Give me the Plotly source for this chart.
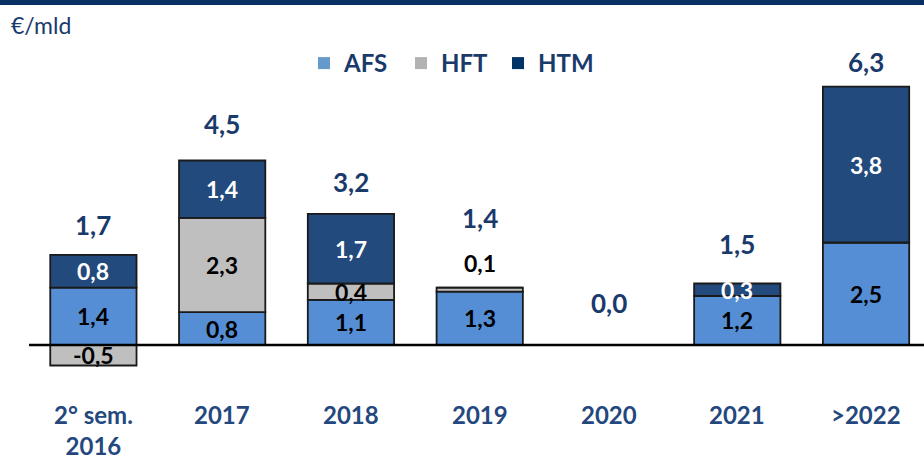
import plotly.graph_objects as go

categories = ["2° sem.<br>2016", "2017", "2018", "2019", "2020", "2021", ">2022"]
afs = [1.4, 0.8, 1.1, 1.3, 0.0, 1.2, 2.5]
hft = [-0.5, 2.3, 0.4, 0.1, 0.0, 0.0, 0.0]
htm = [0.8, 1.4, 1.7, 0.0, 0.0, 0.3, 3.8]
series_names = ["AFS", "HFT", "HTM"]
unit_label = "€/mld"

# styles
bar_colors = ["#558ED5", "#BFBFBF", "#234A7C"]
legend_colors = ["#6699CC", "#B2B2B2", "#003366"]
label_colors = ["#000000", "#000000", "#FFFFFF"]
navy = "#1A3A6C"
cat_color = "#24487E"
FONT = "Lato"
total_shift = [30, 37, 32, 70, 42, 40, 25]

x_idx = list(range(len(categories)))


def fmt(v):
    return f"{v:.1f}".replace(".", ",")


fig = go.Figure()
for name, vals, col in zip(series_names, [afs, hft, htm], bar_colors):
    fig.add_trace(go.Bar(
        x=x_idx, y=vals, name=name, width=0.67, showlegend=False,
        marker=dict(color=col, line=dict(color="#1A1A1A", width=1.8)),
        hoverinfo="skip",
    ))
for name, col in zip(series_names, legend_colors):
    fig.add_trace(go.Bar(
        x=[None], y=[None], name=name, showlegend=True,
        marker=dict(color=col, line=dict(width=0)),
    ))

annotations = []
for i in x_idx:
    pos_base = 0.0
    neg_base = 0.0
    for vals, lc in zip([afs, hft, htm], label_colors):
        v = vals[i]
        if v >= 0:
            y0, y1 = pos_base, pos_base + v
            pos_base = y1
        else:
            y0, y1 = neg_base + v, neg_base
            neg_base = y0
        if v == 0:
            continue
        ymid = (y0 + y1) / 2
        yshift = 0
        if abs(v) < 0.2:
            ymid = y1
            yshift = 25
        annotations.append(dict(
            x=i, y=ymid, xref="x", yref="y", text=fmt(v), showarrow=False,
            yshift=yshift,
            font=dict(family=FONT, size=23, color=lc, weight="bold"),
        ))
    total = afs[i] + hft[i] + htm[i]
    annotations.append(dict(
        x=i, y=pos_base, xref="x", yref="y", text=fmt(total), showarrow=False,
        yshift=total_shift[i],
        font=dict(family=FONT, size=26, color=navy, weight="bold"),
    ))
    annotations.append(dict(
        x=i, y=0, xref="x", yref="y", text=categories[i], showarrow=False,
        yanchor="top", yshift=-53,
        font=dict(family=FONT, size=24, color=cat_color, weight="bold"),
    ))

W, H = 924, 459
ML, MR, MT, MB = 29, 0, 30, 53
pw, ph = W - ML - MR, H - MT - MB

annotations.append(dict(
    x=(9 - ML) / pw, y=1 + (MT - 25) / ph, xref="paper", yref="paper",
    text=unit_label, showarrow=False, xanchor="left", yanchor="middle",
    font=dict(family=FONT, size=23, color=navy),
))

fig.update_layout(
    width=W, height=H,
    margin=dict(l=ML, r=MR, t=MT, b=MB, pad=0),
    barmode="relative",
    plot_bgcolor="white", paper_bgcolor="white",
    xaxis=dict(range=[-0.5, 6.45], showticklabels=False, showgrid=False,
               zeroline=False, showline=False, ticks=""),
    yaxis=dict(range=[-1.488, 7.683], showticklabels=False, showgrid=False,
               zeroline=False, showline=False, ticks=""),
    showlegend=True,
    legend=dict(
        orientation="h", x=(304 - ML) / pw, y=1 - (41 - MT) / ph,
        xanchor="left", yanchor="top",
        font=dict(family=FONT, size=24, color=navy, weight="bold"),
        bgcolor="rgba(0,0,0,0)", entrywidth=52, entrywidthmode="pixels",
        traceorder="normal",
    ),
    annotations=annotations,
    shapes=[
        dict(type="line", xref="paper", yref="y", x0=0, x1=1, y0=0, y1=0,
             line=dict(color="#000000", width=2.5), layer="above"),
        dict(type="rect", xref="paper", yref="paper",
             x0=-ML / pw, x1=1, y0=1 + (MT - 5) / ph, y1=1 + MT / ph,
             fillcolor="#0A2F64", line=dict(width=0)),
    ],
)

fig.write_html(
    "out.html",
    config={"displayModeBar": False},
    post_script="document.body.style.margin='0';document.body.style.overflow='hidden';",
)
